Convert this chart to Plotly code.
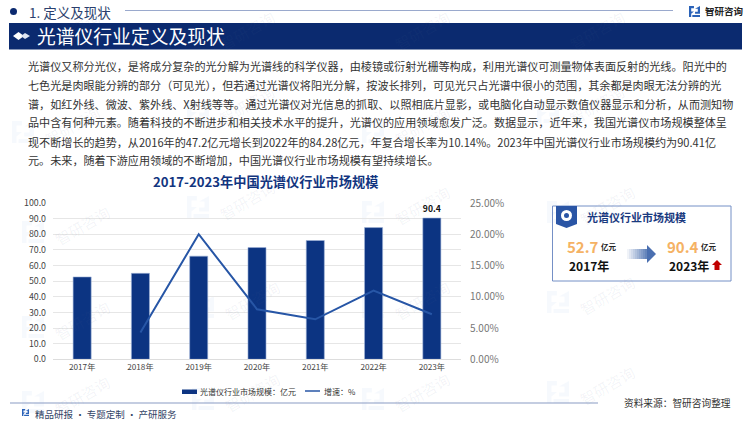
# plot.py
"""China spectrometer market size slide, 2017-2023."""
import plotly.graph_objects as go

W, H = 750, 421

years = ['2017年', '2018年', '2019年', '2020年', '2021年', '2022年', '2023年']
market_size = [52.7, 55.0, 66.0, 71.5, 76.0, 84.28, 90.4]
growth_rate = [None, 4.3, 20.0, 8.0, 6.4, 11.0, 7.2]
bar_labels = ['', '', '', '', '', '', '90.4']

body_lines = [
    '光谱仪又称分光仪，是将成分复杂的光分解为光谱线的科学仪器，由棱镜或衍射光栅等构成，利用光谱仪可测量物体表面反射的光线。阳光中的',
    '七色光是肉眼能分辨的部分（可见光），但若通过光谱仪将阳光分解，按波长排列，可见光只占光谱中很小的范围，其余都是肉眼无法分辨的光',
    '谱，如红外线、微波、紫外线、X射线等等。通过光谱仪对光信息的抓取、以照相底片显影，或电脑化自动显示数值仪器显示和分析，从而测知物',
    '品中含有何种元素。随着科技的不断进步和相关技术水平的提升，光谱仪的应用领域愈发广泛。数据显示，近年来，我国光谱仪市场规模整体呈',
    '现不断增长的趋势，从2016年的47.2亿元增长到2022年的84.28亿元，年复合增长率为10.14%。2023年中国光谱仪行业市场规模约为90.41亿',
    '元。未来，随着下游应用领域的不断增加，中国光谱仪行业市场规模有望持续增长。',
]
body_y = [66, 85, 103.5, 122.5, 141.5, 160]

NAVY = '#0b2a6f'
BAR = '#0c3482'
LINE = '#2756a6'
FONT = 'Noto Sans CJK SC'


def px(x):
    return x / W


def py(y):
    return 1 - y / H


def label(x, y, text, size, color='#222222', anchor='left', bold=False, angle=0):
    return dict(
        x=px(x), y=py(y), xref='paper', yref='paper', text=f'<b>{text}</b>' if bold else text,
        showarrow=False, xanchor=anchor, yanchor='middle', textangle=angle,
        font=dict(family=FONT, size=size, color=color),
    )


def box(x0, y0, x1, y1, color, line=None, layer='above'):
    return dict(
        type='rect', xref='paper', yref='paper', x0=px(x0), x1=px(x1), y0=py(y0), y1=py(y1),
        fillcolor=color, line=dict(color=line or color, width=1 if line else 0), layer=layer,
    )


def rule(x0, x1, y, color, width=1.2):
    return dict(
        type='line', xref='paper', yref='paper', x0=px(x0), x1=px(x1), y0=py(y), y1=py(y),
        line=dict(color=color, width=width),
    )


def poly(points, color, layer='above', opacity=1):
    d = 'M ' + ' L '.join(f'{px(x):.5f} {py(y):.5f}' for x, y in points) + ' Z'
    return dict(type='path', path=d, xref='paper', yref='paper', fillcolor=color,
                line=dict(width=0), layer=layer, opacity=opacity)


def logo(x, y, s, color, layer='above'):
    # the two bracket shapes of the brand mark
    return [
        poly([(x, y), (x + .45 * s, y), (x + .45 * s, y + .2 * s), (x + .2 * s, y + .2 * s),
              (x + .2 * s, y + .5 * s), (x + .45 * s, y + .5 * s), (x + .2 * s, y + .7 * s),
              (x + .2 * s, y + s), (x, y + s)], color, layer),
        poly([(x + .55 * s, y + .25 * s), (x + s, y), (x + s, y + .7 * s), (x + .55 * s, y + .7 * s),
              (x + .55 * s, y + .52 * s), (x + .8 * s, y + .52 * s), (x + .8 * s, y + .25 * s)],
             color, layer),
        poly([(x + .3 * s, y + .82 * s), (x + s, y + .82 * s), (x + s, y + s), (x + .3 * s, y + s)],
             color, layer),
    ]


fig = go.Figure()
fig.add_trace(go.Bar(
    x=years, y=market_size, name='光谱仪行业市场规模：亿元', text=bar_labels,
    textposition='outside', cliponaxis=False, width=0.31, showlegend=False,
    textfont=dict(family=FONT, size=10, color='#111111', weight='bold'),
    marker=dict(color=BAR, line=dict(color='#9fb4d8', width=0.6)),
))
fig.add_trace(go.Scatter(
    x=years, y=growth_rate, name='增速：%', mode='lines', yaxis='y2', showlegend=False,
    line=dict(color=LINE, width=2),
))

shapes = []
annotations = []

# watermark
for wx, wy in [(50, 30), (225, 30), (400, 30), (575, 30),
               (50, 125), (225, 105), (400, 125), (575, 105),
               (60, 225), (225, 200), (400, 205), (585, 205),
               (60, 320), (230, 300), (400, 300), (585, 295),
               (60, 395), (230, 392), (400, 392), (585, 385)]:
    annotations.append(label(wx + 22, wy, '智研咨询', 15, 'rgba(90,110,150,0.07)', 'center', angle=-30))
    shapes += logo(wx - 38, wy - 4, 22, 'rgba(70,130,210,0.05)', 'below')

# header
shapes.append(dict(type='circle', xref='paper', yref='paper', x0=px(10), x1=px(17), y0=py(15), y1=py(8),
                   fillcolor=NAVY, line=dict(width=0)))
shapes.append(rule(125, 673, 10.5, '#9aa9cd'))
shapes += logo(689, 6, 11, '#2a62b8')
shapes.append(box(9, 23, 742, 49.5, NAVY))
shapes.append(poly([(13, 36), (18.5, 32), (24, 36), (18.5, 40)], '#ffffff'))
shapes.append(poly([(21, 36), (25, 33), (30, 36), (25, 39)], '#dfe5f2'))
annotations.append(label(27, 12, '1. 定义及现状', 13.5, '#2b3f6e'))
annotations.append(label(703, 11, '智研咨询', 9.5, '#222222', bold=True))
annotations.append(label(34.5, 36, '光谱仪行业定义及现状', 18.8, '#ffffff'))

# body text
for text, y in zip(body_lines, body_y):
    annotations.append(label(26, y, text, 11.1, '#333333'))

annotations.append(label(265, 181, '2017-2023年中国光谱仪行业市场规模', 13.2, '#12357f', 'center', bold=True))

# legend, wider and tighter than the built-in one allows
shapes.append(box(182, 389.5, 197, 394, BAR))
annotations.append(label(198, 391, '光谱仪行业市场规模：亿元', 8, '#333333'))
shapes.append(rule(305, 320, 391, LINE, 1.5))
annotations.append(label(322, 391, '增速：%', 8, '#333333'))

# summary card
shapes.append(box(552.5, 206, 731, 281, 'rgba(0,0,0,0)', '#7590c6'))
shapes.append(poly([(556, 206), (577, 206), (577, 224), (566.5, 228), (556, 224)], '#2a55a5'))
shapes.append(dict(type='circle', xref='paper', yref='paper', x0=px(561), x1=px(572), y0=py(221), y1=py(210),
                   fillcolor='#ffffff', line=dict(width=0)))
shapes.append(dict(type='circle', xref='paper', yref='paper', x0=px(564), x1=px(569), y0=py(218), y1=py(213),
                   fillcolor='#2a55a5', line=dict(width=0)))
annotations.append(label(585, 217, '光谱仪行业市场规模', 11, '#1a3a7f', bold=True))
annotations.append(label(565, 247, '52.7', 15, '#f5b264', bold=True))
annotations.append(label(599, 247, '亿元', 7.5, '#222222', bold=True))
annotations.append(label(567, 265, '2017年', 12, '#111111', bold=True))
annotations.append(label(665, 247, '90.4', 15, '#f5b264', bold=True))
annotations.append(label(699, 247, '亿元', 7.5, '#222222', bold=True))
annotations.append(label(667, 265, '2023年', 12, '#111111', bold=True))
shapes.append(poly([(717, 260), (722, 265), (719.5, 265), (719.5, 270), (714.5, 270), (714.5, 265), (712, 265)],
                   '#c00000'))
# gradient arrow, drawn as slices that get darker to the right
for i in range(10):
    x0 = 627 + i * 2
    shapes.append(box(x0, 249, x0 + 2, 259, '#3f66aa', layer='above'))
    shapes[-1]['opacity'] = 0.08 + i * 0.08
shapes.append(poly([(647, 245), (656, 254), (647, 263)], '#4a6fb0'))

# footer
shapes.append(rule(10, 598, 403, '#8a9cc4'))
shapes += logo(22, 409, 7, '#2a62b8')
annotations.append(label(33, 414, '精品研报 · 专题定制 · 产研服务', 9.5, '#334466'))
annotations.append(label(622, 403, '资料来源：智研咨询整理', 9.7, '#333333'))

fig.update_layout(
    width=W, height=H, margin=dict(l=0, r=0, t=0, b=0, autoexpand=False),
    paper_bgcolor='#ffffff', plot_bgcolor='rgba(0,0,0,0)',
    font=dict(family=FONT, size=9, color='#444444'),
    shapes=shapes, annotations=annotations, bargap=0.69,
    xaxis=dict(domain=[px(53), px(461)], showgrid=False, showline=True, linecolor='#dddddd',
               ticks='', tickfont=dict(size=8.2, color='#444444')),
    yaxis=dict(domain=[py(359.3), py(203)], range=[0, 100], dtick=10, tickformat='.1f',
               gridcolor='#e6e6e6', gridwidth=1, zeroline=False, ticks='',
               ticklabelstandoff=6, tickfont=dict(size=8.8, color='#444444')),
    yaxis2=dict(overlaying='y', side='right', range=[0, 25], dtick=5, tickformat='.2f', ticksuffix='%',
                showgrid=False, zeroline=False, ticks='', ticklabelstandoff=8,
                tickfont=dict(size=10, color='#777777')),
)

fig.write_html('out.html', config=dict(displayModeBar=False), post_script="document.body.style.margin='0';")
